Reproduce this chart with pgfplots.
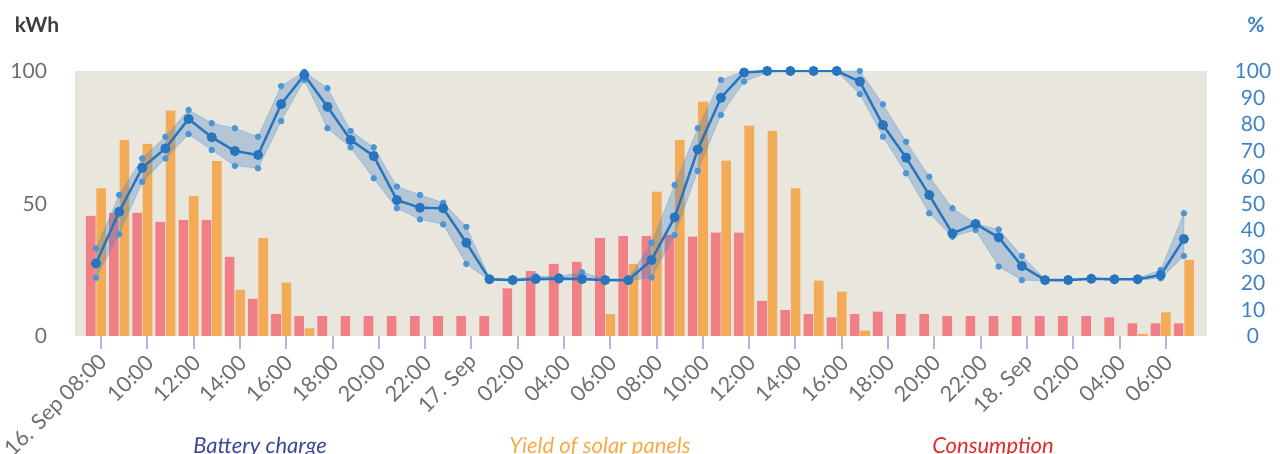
\documentclass[border=0pt]{standalone}
\usepackage{fontspec}
\setmainfont{Lato}
\usepackage{pgfplots}
\pgfplotsset{compat=1.18}
\usepackage{pgfplotstable}

\definecolor{bgc}{RGB}{232,230,221}
\definecolor{redc}{RGB}{240,128,133}
\definecolor{orc}{RGB}{243,171,88}
\definecolor{linec}{RGB}{38,117,190}
\definecolor{bandc}{RGB}{60,125,195}
\definecolor{markc}{RGB}{75,150,215}
\definecolor{tickc}{RGB}{170,185,228}
\definecolor{labgray}{RGB}{110,110,110}
\definecolor{rblue}{RGB}{60,130,200}
\definecolor{kwhc}{RGB}{60,60,60}
\definecolor{battc}{RGB}{60,70,150}
\definecolor{yieldc}{RGB}{245,170,70}
\definecolor{consc}{RGB}{230,40,40}

\pgfplotstableread{
h cons
0 45.3
1 46.5
2 46.5
3 43.1
4 43.8
5 43.8
6 29.9
7 14.0
8 8.3
9 7.5
10 7.5
11 7.5
12 7.5
13 7.5
14 7.5
15 7.5
16 7.5
17 7.5
18 18.0
19 24.5
20 27.2
21 28.0
22 36.9
23 37.7
24 37.7
25 38.1
26 37.5
27 39.0
28 39.0
29 13.3
30 9.8
31 8.3
32 7.0
33 8.3
34 9.2
35 8.3
36 8.3
37 7.5
38 7.5
39 7.5
40 7.5
41 7.5
42 7.5
43 7.5
44 7.0
45 4.8
46 4.8
47 4.8
}\constab

\pgfplotstableread{
h yield
0 55.7
1 74.0
2 72.5
3 85.0
4 52.8
5 66.0
6 17.4
7 36.9
8 20.1
9 2.9
22 8.3
23 27.2
24 54.5
25 74.0
26 88.4
27 66.2
28 79.4
29 77.4
30 55.7
31 20.9
32 16.7
33 2.0
45 0.8
46 8.9
47 28.7
}\yieldtab

\pgfplotstableread{
h bat up lo
0 27.4 33.0 22.0
1 46.9 53.2 38.4
2 63.5 67.0 58.2
3 70.8 75.2 67.0
4 81.9 85.3 76.2
5 75.0 80.3 70.2
6 69.8 78.4 64.2
7 68.3 75.2 63.3
8 87.5 94.3 81.1
9 98.5 99.7 96.6
10 86.5 93.5 78.4
11 74.0 77.4 71.2
12 67.9 71.2 59.5
13 51.3 56.4 48.2
14 48.4 53.2 44.0
15 48.2 50.3 42.1
16 35.2 41.2 27.2
17 21.4 22.0 21.0
18 21.1 21.5 20.8
19 21.5 22.5 21.0
20 21.7 22.5 21.0
21 21.5 24.0 21.0
22 21.1 21.5 20.8
23 21.1 21.5 20.8
24 28.7 35.2 22.1
25 44.8 57.0 38.1
26 70.4 78.4 62.3
27 89.9 96.6 83.4
28 99.4 100.0 96.0
29 100.0 100.0 99.5
30 100.0 100.0 100.0
31 100.0 100.0 100.0
32 100.0 100.0 100.0
33 96.0 100.0 91.3
34 79.6 87.4 75.2
35 67.3 73.3 61.4
36 53.2 60.1 46.3
37 38.7 48.2 37.5
38 42.3 42.5 40.0
39 37.2 40.2 26.2
40 26.4 30.2 21.1
41 21.1 21.5 20.8
42 21.1 21.5 20.8
43 21.6 22.0 21.2
44 21.4 21.8 21.0
45 21.4 21.8 21.0
46 23.0 24.9 21.8
47 36.6 46.3 30.2
}\battab

% band outline: upper edge forward, lower edge backward
\pgfplotstableread{
h v
0 33.0
1 53.2
2 67.0
3 75.2
4 85.3
5 80.3
6 78.4
7 75.2
8 94.3
9 99.7
10 93.5
11 77.4
12 71.2
13 56.4
14 53.2
15 50.3
16 41.2
17 22.0
18 21.5
19 22.5
20 22.5
21 24.0
22 21.5
23 21.5
24 35.2
25 57.0
26 78.4
27 96.6
28 100.0
29 100.0
30 100.0
31 100.0
32 100.0
33 100.0
34 87.4
35 73.3
36 60.1
37 48.2
38 42.5
39 40.2
40 30.2
41 21.5
42 21.5
43 22.0
44 21.8
45 21.8
46 24.9
47 46.3
47 30.2
46 21.8
45 21.0
44 21.0
43 21.2
42 20.8
41 20.8
40 21.1
39 26.2
38 40.0
37 37.5
36 46.3
35 61.4
34 75.2
33 91.3
32 100.0
31 100.0
30 100.0
29 99.5
28 96.0
27 83.4
26 62.3
25 38.1
24 22.1
23 20.8
22 20.8
21 21.0
20 21.0
19 21.0
18 20.8
17 21.0
16 27.2
15 42.1
14 44.0
13 48.2
12 59.5
11 71.2
10 78.4
9 96.6
8 81.1
7 63.3
6 64.2
5 70.2
4 76.2
3 67.0
2 58.2
1 38.4
0 22.0
}\bandtab

\begin{document}
\begin{tikzpicture}[x=1pt,y=1pt]
\begin{axis}[
  at={(37.5pt,59pt)}, anchor=south west,
  scale only axis, width=566pt, height=132.5pt,
  xmin=-0.907, xmax=48.0, ymin=0, ymax=100,
  axis background/.style={fill=bgc},
  axis line style={draw=none},
  ytick={0,50,100},
  ytick style={draw=none},
  yticklabel style={font=\fontsize{10.5}{12}\selectfont, text=labgray, xshift=-4pt},
  /pgf/number format/assume math mode=true,
  xtick={0.22,2.22,4.22,6.22,8.22,10.22,12.22,14.22,16.22,18.22,20.22,22.22,24.22,26.22,28.22,30.22,32.22,34.22,36.22,38.22,40.22,42.22,44.22,46.22},
  xticklabels={16. Sep 08:00,10:00,12:00,14:00,16:00,18:00,20:00,22:00,17. Sep,02:00,04:00,06:00,08:00,10:00,12:00,14:00,16:00,18:00,20:00,22:00,18. Sep,02:00,04:00,06:00},
  xtick pos=bottom,
  tick align=outside,
  major tick length=6.5pt,
  xtick style={draw=tickc, line width=1pt},
  xticklabel style={rotate=45, anchor=east, font=\fontsize{10.8}{12}\selectfont, text=labgray, yshift=-4.5pt, xshift=1pt},
]
\addplot[ybar, bar width=4.8pt, bar shift=-2.6pt, fill=redc, draw=none] table[x=h,y=cons]{\constab};
\addplot[ybar, bar width=4.8pt, bar shift=2.6pt, fill=orc, draw=none] table[x=h,y=yield]{\yieldtab};
\end{axis}
\begin{axis}[
  at={(37.5pt,59pt)}, anchor=south west,
  scale only axis, width=566pt, height=132.5pt,
  xmin=-0.907, xmax=48.0, ymin=0, ymax=100,
  hide x axis,
  axis y line*=right,
  axis line style={draw=none},
  ytick={0,10,...,100},
  ytick style={draw=none},
  /pgf/number format/assume math mode=true,
  yticklabel style={font=\fontsize{10.5}{12}\selectfont, text=rblue, anchor=center, xshift=23pt},
]
\addplot[fill=bandc, fill opacity=0.3, draw=markc, draw opacity=0.3, line width=0.4pt] table[x=h,y=v]{\bandtab} -- cycle;
\addplot[only marks, mark=*, mark size=1.4pt, color=markc] table[x=h,y=up]{\battab};
\addplot[only marks, mark=*, mark size=1.4pt, color=markc] table[x=h,y=lo]{\battab};
\addplot[color=linec, line width=1.2pt, mark=*, mark size=1.9pt] table[x=h,y=bat]{\battab};
\end{axis}
\node[font=\bfseries\fontsize{10.5}{12}\selectfont, text=kwhc] at (18.5,214.5) {kWh};
\node[font=\bfseries\fontsize{10.5}{12}\selectfont, text=rblue] at (628,214.5) {\%};
\node[anchor=base, font=\itshape\fontsize{11}{13}\selectfont, text=battc] at (130,0) {Battery charge};
\node[anchor=base, font=\itshape\fontsize{11}{13}\selectfont, text=yieldc] at (300,0) {Yield of solar panels};
\node[anchor=base, font=\itshape\fontsize{11}{13}\selectfont, text=consc] at (496.5,0) {Consumption};
\pgfresetboundingbox
\useasboundingbox (0,0) rectangle (640,227);
\end{tikzpicture}
\end{document}
